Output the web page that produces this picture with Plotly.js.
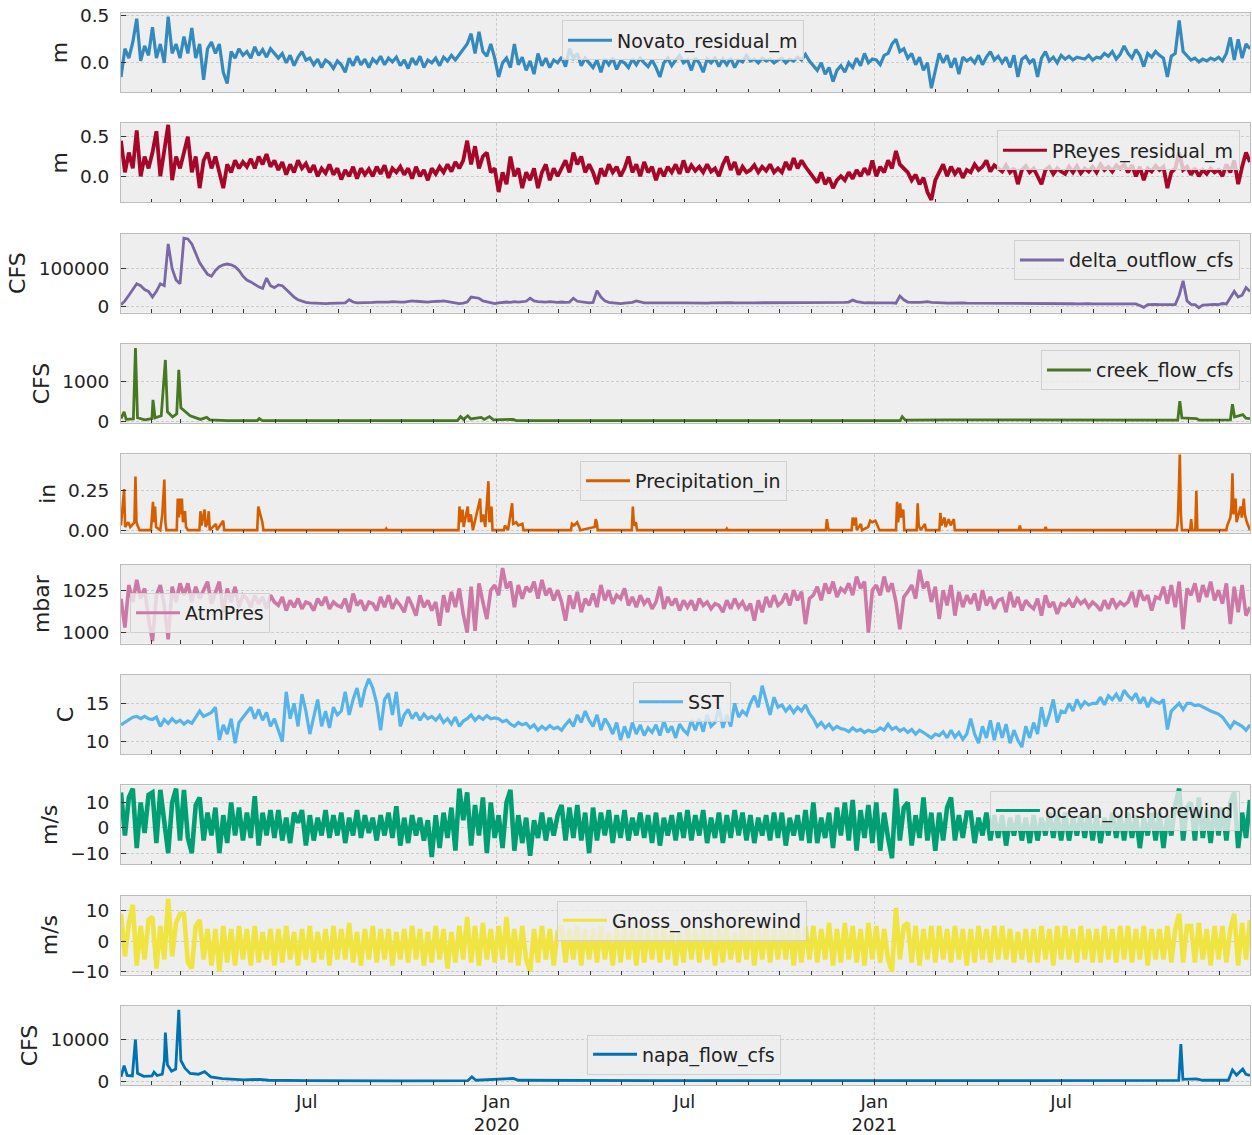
<!DOCTYPE html>
<html>
<head>
<meta charset="utf-8">
<script src="https://cdn.plot.ly/plotly-3.0.1.min.js"></script>
<style>
  html, body { margin: 0; padding: 0; background: #ffffff; }
  #chart { width: 1252px; height: 1135px; }
</style>
</head>
<body>
<div id="chart"></div>
<script>
// ---------------- DATA ----------------
// Regularly sampled series: 8 samples per month, Jan 2019 .. Dec 2021
const sampleStart = '2019-01-02';
const sampleStepMs = 329339000; // ~3.81 days between samples

const novato_residual_m = [
  -0.15,0.15,0.05,0.22,0.47,0.02,0.18,0.08,  0.38,0.05,0.2,0.0,0.49,0.1,0.2,0.05,
  0.28,0.1,0.37,0.05,0.2,-0.18,0.15,0.22,    0.1,0.2,-0.1,-0.22,0.12,0.05,0.15,0.08,
  0.12,0.05,0.17,0.08,0.14,0.06,0.15,0.1,    0.05,0.1,0.0,0.08,-0.03,0.06,0.12,0.03,
  0.05,-0.02,0.04,-0.05,0.03,0.0,-0.06,0.02, -0.02,-0.1,0.05,-0.03,0.07,-0.02,0.04,-0.05,
  0.04,0.0,0.07,-0.02,0.05,0.01,0.06,-0.03,  0.03,-0.06,0.05,-0.02,0.07,-0.05,0.03,0.0,
  0.05,-0.03,0.06,0.02,0.08,0.03,0.09,0.14,  0.2,0.31,0.1,0.33,0.12,0.07,0.2,0.05,
  -0.15,0.0,0.05,-0.05,0.2,-0.02,0.06,-0.08, 0.02,-0.12,0.1,-0.03,0.05,-0.05,0.03,0.0,
  0.06,-0.04,0.15,0.05,0.1,-0.03,0.05,0.0,   -0.05,0.03,-0.1,0.04,-0.02,0.05,-0.07,0.02,
  0.0,-0.05,0.04,-0.02,0.05,0.0,-0.04,0.03,  -0.05,-0.15,0.0,0.05,-0.03,0.03,0.08,0.0,
  0.03,-0.08,0.05,0.0,-0.1,0.04,0.0,0.05,    -0.04,0.04,-0.02,0.05,-0.05,0.03,0.01,0.08,
  0.02,0.04,0.0,0.05,0.02,0.04,0.0,0.03,     0.05,0.0,0.04,0.02,0.06,0.03,0.09,0.02,
  -0.03,-0.08,0.0,-0.12,-0.05,-0.2,-0.08,-0.03, -0.1,0.0,-0.05,0.05,-0.03,0.1,0.0,0.04,
  0.03,-0.02,0.08,0.1,0.2,0.25,0.12,0.15,    0.05,0.1,-0.02,0.06,-0.08,0.0,-0.27,-0.1,
  0.1,0.0,0.08,-0.05,0.05,-0.12,0.06,0.02,   0.05,0.0,0.08,-0.02,0.06,0.12,0.03,0.07,
  0.0,0.06,-0.05,0.08,-0.15,0.04,0.07,0.0,   0.04,-0.15,0.05,0.12,0.02,0.06,0.0,0.08,
  0.04,0.07,0.03,0.06,0.05,0.04,0.08,0.03,   0.06,0.05,0.1,0.07,0.12,0.04,0.09,0.18,
  0.1,0.05,0.14,0.08,-0.04,0.1,0.06,0.12,    0.08,0.05,-0.15,0.07,0.1,0.45,0.12,0.08,
  0.03,0.05,0.01,0.04,0.02,0.05,0.03,0.06,   0.02,0.1,0.27,0.03,0.25,0.05,0.2,0.15
];

const preyes_residual_m = [
  0.45,0.05,0.3,0.1,0.58,0.0,0.25,0.1,       0.3,0.57,0.0,0.35,0.65,-0.05,0.25,0.1,
  0.3,0.5,0.05,0.25,-0.15,0.2,0.3,0.1,       0.25,0.05,-0.15,0.15,0.05,0.2,0.1,0.18,
  0.12,0.22,0.1,0.25,0.15,0.28,0.12,0.2,     0.08,0.18,0.02,0.15,0.05,0.2,0.1,0.16,
  0.05,0.14,0.0,0.1,0.04,0.15,0.02,0.1,      -0.04,0.08,0.0,0.12,-0.03,0.1,0.02,0.09,
  0.0,0.12,0.03,0.14,-0.02,0.1,0.05,0.12,    0.02,0.1,-0.03,0.12,0.0,0.08,-0.05,0.1,
  0.03,0.12,0.05,0.15,0.06,0.18,0.1,0.2,     0.45,0.15,0.38,0.1,0.25,0.3,0.05,0.1,
  -0.2,0.05,-0.1,0.25,0.0,0.1,-0.15,0.05,    -0.05,0.1,-0.15,0.05,0.15,-0.05,0.1,0.0,
  0.1,0.2,0.05,0.3,0.15,0.25,0.05,0.15,      0.05,-0.1,0.1,0.0,0.15,0.05,0.12,0.0,
  0.1,0.25,0.05,0.15,0.0,0.18,0.05,0.12,     -0.05,0.1,0.0,0.12,0.05,0.15,0.03,0.2,
  0.05,0.14,0.07,0.12,0.05,0.15,0.06,0.1,    0.0,0.15,0.25,0.08,0.18,0.02,0.12,0.05,
  0.08,0.14,0.05,0.12,0.07,0.15,0.05,0.1,    0.05,0.18,0.08,0.23,0.1,0.2,0.12,0.05,
  0.0,-0.08,0.05,-0.1,-0.02,-0.15,-0.05,0.0, -0.05,0.05,-0.03,0.08,0.0,0.1,0.02,0.2,
  0.0,0.12,0.05,0.2,0.1,0.32,0.15,0.1,       0.05,-0.05,0.02,-0.1,-0.02,-0.2,-0.3,-0.05,
  0.05,0.15,0.0,0.12,0.03,0.1,-0.02,0.08,    0.05,0.15,0.08,0.12,0.2,0.06,0.14,0.1,
  0.06,0.14,0.05,0.1,-0.1,0.08,0.13,0.05,    0.1,0.0,-0.1,0.08,0.12,0.03,0.1,0.06,
  0.03,0.12,0.05,0.13,0.04,0.1,0.06,0.12,    0.05,0.15,0.08,0.12,0.06,0.14,0.1,0.15,
  0.05,0.14,0.0,0.12,-0.05,0.1,0.06,0.13,    0.08,0.12,-0.15,0.05,0.1,0.3,0.08,0.12,
  0.02,0.1,0.0,0.08,0.03,0.1,0.05,0.08,      0.0,0.15,0.05,0.2,-0.1,0.12,0.3,0.18
];

const delta_outflow_cfs = [
  5000,15000,30000,45000,60000,55000,45000,40000,   25000,40000,60000,55000,165000,100000,70000,60000,
  180000,178000,165000,140000,115000,100000,85000,80000, 95000,105000,110000,112000,110000,105000,95000,80000,
  70000,65000,58000,52000,48000,75000,55000,50000,   57000,55000,45000,35000,25000,18000,14000,11000,
  10000,9000,8500,8000,8000,8500,9000,9000,          9000,10000,18000,12000,10000,10000,11000,10000,
  11000,12000,12000,11000,12000,13000,12000,12000,   12000,13000,15000,14000,13000,13000,12000,13000,
  13000,14000,15000,13000,12000,10000,8000,9000,     12000,25000,24000,22000,15000,12000,9000,8000,
  10000,11000,12000,11000,13000,12000,13000,14000,   22000,15000,13000,12000,12000,13000,12000,11000,
  12000,11000,12000,22000,14000,12000,11000,10000,   11000,42000,25000,15000,11000,10000,9000,8000,
  9000,10000,11000,15000,12000,10000,10000,9500,     10000,10000,9500,10000,10500,10000,9500,10000,
  9500,9000,9500,10000,9500,9000,9500,10000,         10000,10000,9500,10500,10000,9500,10000,10000,
  9500,10000,10000,9500,10000,10500,10000,9500,      10000,9500,10000,10000,9500,10000,10000,9500,
  9500,10000,9000,9500,10000,9500,10000,10500,       11000,12000,17000,13000,11000,10000,10500,11000,
  10000,9500,10000,11000,10000,9000,28000,18000,     12000,11000,10500,11000,12000,13000,11000,10000,
  10000,9500,9000,9500,10000,9000,9500,9000,         9000,8500,9000,8500,9000,8500,8000,8500,
  8500,8000,8500,8000,8000,8500,8000,7500,           8000,7500,8000,7500,8000,7500,7500,8000,
  7500,8000,7500,7000,7500,8000,7500,7000,           7000,7500,7000,7500,7000,6500,7000,7500,
  7000,6500,7000,3000,-2000,5000,6000,5500,          5000,5500,5000,6000,5500,30000,68000,15000,
  6000,5000,-3000,4000,5000,5500,6000,5000,          8000,7000,25000,40000,25000,30000,50000,40000
];

const atm_pres_mbar = [
  1020,1003,1028,1018,1031,1020,1026,1008,  995,1022,1028,1016,996,1027,1018,1029,
  1022,1029,1018,1027,1020,1025,1030,1017,  1024,1030,1012,1026,1018,1027,1015,1022,
  1020,1015,1022,1017,1021,1014,1022,1018,  1016,1021,1013,1019,1015,1020,1014,1018,
  1017,1013,1020,1016,1021,1014,1018,1016,  1015,1020,1012,1023,1016,1019,1013,1018,
  1017,1013,1021,1015,1022,1014,1019,1016,  1012,1021,1016,1010,1022,1015,1019,1013,
  1018,1004,1022,1012,1024,1015,1026,1011,  1000,1027,1001,1029,1018,1008,1025,1028,
  1022,1038,1026,1030,1015,1028,1020,1027,  1024,1030,1020,1031,1022,1026,1019,1025,
  1018,1007,1022,1014,1024,1012,1020,1016,  1023,1015,1028,1019,1025,1017,1022,1020,
  1026,1016,1021,1015,1022,1017,1020,1014,  1018,1027,1014,1021,1016,1020,1013,1019,
  1015,1019,1013,1020,1016,1018,1014,1017,  1016,1012,1019,1014,1020,1015,1018,1013,
  1017,1007,1019,1012,1021,1015,1022,1016,  1018,1023,1016,1025,1019,1024,1005,1020,
  1022,1027,1019,1029,1023,1030,1021,1026,  1024,1029,1022,1033,1026,1030,1000,1025,
  1028,1022,1033,1024,1029,1018,1002,1021,  1024,1028,1020,1037,1026,1030,1018,1027,
  1008,1025,1016,1028,1010,1024,1015,1022,  1017,1023,1013,1025,1016,1021,1014,1019,
  1020,1012,1024,1015,1021,1013,1019,1016,  1014,1020,1010,1022,1015,1018,1011,1017,
  1016,1019,1015,1020,1017,1019,1015,1018,  1016,1013,1019,1014,1020,1015,1018,1016,
  1018,1024,1015,1025,1019,1022,1013,1021,  1020,1027,1017,1028,1015,1030,1002,1026,
  1022,1029,1018,1028,1021,1030,1019,1025,  1017,1029,1005,1027,1012,1028,1010,1015
];

const sst_c = [
  12.2,12.5,12.9,13.2,13.3,13.0,13.3,13.0,  12.9,13.2,12.0,12.9,12.4,13.0,12.5,12.8,
  12.3,12.7,12.4,13.2,14.0,13.3,13.6,13.8,  14.5,10.2,12.2,11.0,13.0,9.8,12.5,13.2,
  13.8,14.5,13.0,14.2,12.8,13.8,12.0,13.0,  11.5,10.0,16.5,13.0,15.0,12.0,16.2,14.0,
  11.0,13.5,15.5,12.0,14.0,11.8,14.5,13.5,  14.0,16.5,13.5,15.5,17.0,14.5,16.8,18.2,
  17.0,15.0,11.5,15.5,16.3,13.5,16.5,12.0,  13.5,14.2,13.0,13.8,12.8,13.6,13.0,13.3,
  12.8,13.4,12.5,13.0,12.3,13.2,12.0,12.7,  13.0,13.5,12.8,13.3,12.9,13.4,13.0,13.1,
  13.0,12.6,12.8,12.3,12.0,12.5,12.2,12.4,  11.8,12.2,11.5,12.0,11.6,12.1,11.7,11.9,
  11.5,12.2,12.8,12.0,13.5,12.5,14.0,12.8,  12.0,13.5,11.5,13.0,12.2,11.0,12.5,10.2,
  12.0,10.5,12.5,11.0,12.2,10.8,11.8,11.2,  12.2,10.8,12.7,11.2,12.0,10.5,12.3,11.5,
  11.0,12.8,11.5,13.0,11.3,13.5,12.0,12.5,  14.5,11.8,13.5,12.0,15.0,13.2,14.0,13.5,
  15.0,16.0,14.5,17.3,15.5,13.5,15.8,14.5,  14.8,14.0,14.6,13.8,14.5,14.0,14.8,13.7,
  13.0,12.0,12.5,11.8,12.3,11.6,12.0,11.7,  11.6,11.3,11.8,11.4,11.6,11.2,11.5,11.3,
  11.4,11.8,11.5,12.3,11.6,11.9,11.4,11.7,  11.2,11.6,11.0,11.5,11.2,10.8,10.5,11.0,
  10.8,11.3,10.5,11.5,10.6,11.2,10.3,11.0,  13.0,11.0,9.8,12.0,10.5,12.8,10.2,12.5,
  10.5,12.3,9.8,11.5,10.2,9.3,12.0,10.5,    12.5,11.0,14.5,12.0,13.5,15.5,12.5,14.0,
  13.8,15.0,14.0,15.5,14.5,15.2,14.8,15.0,  15.0,15.8,14.8,16.0,15.5,16.2,15.3,16.7,
  16.0,15.5,16.3,15.0,15.8,14.5,15.6,15.2,  15.0,15.5,11.6,14.0,14.5,15.0,14.2,15.0,
  15.0,14.7,14.8,14.5,14.3,14.0,13.8,13.6,  13.2,12.5,11.8,12.6,12.3,12.0,11.5,12.2
];

const ocean_onshorewind = [
  14,-3,12,15.5,-8,10,-2,13,   14,-6,15,2,-10,10,15.5,-5,
  15,-4,-10,9,12,-5,6,-3,      8,-10,5,-6,10,-3,8,-5,
  6,-4,12.5,-7,6,-3,7,-4,      7,-5,4,-6,6,2,7,-7,
  5,-5,4,-3,7,-4,5,-3,         6,-6,4,-3,7,-4,5,-2,
  4,-5,5,-3,6,-4,8.5,-7,       4,-6,5,-3,4,-5,3,-11.5,
  5,-8,6,-4,8,-9,15.5,3,       14,-7,9,-3,12,-10,10,-4,
  5,-8,10,15,-9,5,-6,4,        -11,3,-4,6,-5,4,-3,5,
  9,-5,8,-4,9,-5,6,-10,        8,-5,6,-3,7,-6,5,-4,
  7,-5,4,-3,6,-4,5,-6,         6,-7,4,-3,5,-5,6,-4,
  7,-5,5,-3,7,-6,4,-4,         6,-6,5,-4,7,-3,6,-5,
  5,-6,4,-3,5,-5,6,-4,         6,-7,4,-3,5,-5,7,-6,
  10,-6,4,-4,6,-8,8,-3,        10,-5,11,-9,7,-4,9,-6,
  10,-9,6,-4,-12,15.5,-5,8,    10,-7,5,-4,12,-5,6,-9,
  6,-5,8,12,-5,5,-4,6,         6,-6,4,-3,6,-5,5,-4,
  5,-7,4,-3,5,-5,4,-6,         5,-5,4,-3,6,-4,5,-5,
  6,-5,4,-3,5,-4,6,-5,         5,-6,4,-3,6,-4,5,-5,
  6,-4,5,-8,4,-3,6,-5,         6,-8,5,-3,9,15.5,-5,8,
  10,-5,12,-4,7,-6,8,-3,       8,-5,10,14,-8,6,-4,11
];

const gnoss_onshorewind = [
  9,-5,6,12,-8,5,-6,7,    8,-9,5,-6,14,-5,6,9,
  9,-7,-9,5,7,-6,4,-8,    4,-10,5,-7,4,-8,5,-6,
  4,-8,5,-7,3,-6,4,-8,    4,-7,5,-6,3,-8,4,-6,
  5,-7,3,-6,4,-8,5,-6,    4,-6,6,-7,3,-8,4,-6,
  5,-7,4,-6,4,-8,3,-6,    4,-7,5,-6,4,-8,3,-7,
  5,-6,4,-9,3,-7,5,-6,    8,-7,5,-8,6,-6,4,-7,
  5,-6,8,-7,4,-8,5,-6,    -10,4,-7,5,-6,4,-8,3,
  5,-7,4,-6,5,-8,4,-6,    4,-7,5,-6,3,-8,5,-7,
  5,-6,4,-8,5,-7,4,-6,    4,-7,5,-6,4,-8,3,-7,
  5,-6,4,-7,5,-6,4,-8,    4,-7,5,-6,3,-7,5,-6,
  5,-8,4,-6,5,-7,4,-6,    4,-6,5,-8,4,-7,5,-6,
  5,-7,4,-6,6,-8,4,-7,    6,-6,5,-7,4,-8,6,-6,
  5,-7,4,-6,-10,11,-6,5,  6,-7,5,-8,4,-6,5,-7,
  5,-6,4,-7,5,-6,4,-8,    4,-7,5,-6,4,-7,5,-6,
  5,-6,4,-7,3,-6,4,-7,    4,-7,5,-6,4,-8,5,-6,
  5,-6,4,-7,5,-6,4,-7,    4,-7,5,-6,4,-7,5,-6,
  5,-7,4,-6,5,-8,4,-6,    4,-6,5,-7,4,9,-7,5,
  5,-7,6,-6,4,-8,5,-6,    5,-7,4,9,-8,6,-6,7
];

// Event-type series: explicit dates and values
const creek_dates = ['2019-01-02','2019-01-05','2019-01-07','2019-01-14','2019-01-16','2019-01-18','2019-01-25',
  '2019-02-01','2019-02-02','2019-02-04','2019-02-10','2019-02-12','2019-02-14','2019-02-16','2019-02-21',
  '2019-02-25','2019-02-27','2019-03-01','2019-03-05','2019-03-10','2019-03-20','2019-03-26','2019-03-29',
  '2019-04-15','2019-05-14','2019-05-16','2019-05-19','2019-11-24','2019-11-27','2019-11-30','2019-12-04',
  '2019-12-07','2019-12-17','2019-12-20','2019-12-25','2019-12-29','2020-01-17','2020-01-20','2021-01-26',
  '2021-01-28','2021-01-31','2021-03-14','2021-10-22','2021-10-24','2021-10-26','2021-11-09','2021-11-12',
  '2021-12-12','2021-12-14','2021-12-16','2021-12-24','2021-12-27','2021-12-31'];
const creek_flow_cfs = [80,250,60,70,1850,100,50,
  80,550,100,150,1000,1550,250,120,
  200,1300,350,250,150,60,110,50,
  30,30,80,30,30,130,60,150,
  70,110,60,130,50,60,30,30,
  130,40,50,40,520,100,80,40,
  50,440,120,180,90,80];

const precip_dates = ['2019-01-02','2019-01-05','2019-01-06','2019-01-09','2019-01-11','2019-01-15','2019-01-16','2019-01-17',
  '2019-01-18','2019-01-20','2019-01-31','2019-02-01','2019-02-02','2019-02-03','2019-02-04','2019-02-05',
  '2019-02-09','2019-02-11','2019-02-13','2019-02-14','2019-02-15','2019-02-25','2019-02-26','2019-02-27',
  '2019-02-28','2019-03-01','2019-03-02','2019-03-03','2019-03-05','2019-03-06','2019-03-08','2019-03-19',
  '2019-03-20','2019-03-21','2019-03-24','2019-03-25','2019-03-27','2019-03-28','2019-03-29','2019-04-04',
  '2019-04-05','2019-04-11','2019-04-12','2019-05-14','2019-05-15','2019-05-17','2019-05-19','2019-05-20',
  '2019-09-15','2019-09-16','2019-09-17','2019-11-25','2019-11-26','2019-11-27','2019-11-29','2019-11-30',
  '2019-12-04','2019-12-05','2019-12-07','2019-12-09','2019-12-16','2019-12-17','2019-12-19','2019-12-21',
  '2019-12-24','2019-12-25','2019-12-27','2019-12-28','2020-01-08','2020-01-09','2020-01-12','2020-01-16',
  '2020-01-17','2020-01-20','2020-01-22','2020-01-26','2020-01-27','2020-03-13','2020-03-14','2020-03-16',
  '2020-03-19','2020-03-21','2020-03-22','2020-04-05','2020-04-06','2020-04-07','2020-04-08','2020-05-11',
  '2020-05-12','2020-05-13','2020-05-15','2020-05-16','2020-08-10','2020-08-11','2020-08-12','2020-11-15',
  '2020-11-16','2020-11-17','2020-11-18','2020-12-10','2020-12-11','2020-12-12','2020-12-14','2020-12-15',
  '2020-12-19','2020-12-20','2020-12-26','2020-12-28','2020-12-30','2021-01-02','2021-01-04','2021-01-06',
  '2021-01-22','2021-01-23','2021-01-24','2021-01-26','2021-01-27','2021-01-29','2021-01-30','2021-02-11',
  '2021-02-12','2021-02-13','2021-02-15','2021-02-19','2021-02-20','2021-03-05','2021-03-06','2021-03-07',
  '2021-03-10','2021-03-11','2021-03-14','2021-03-16','2021-03-19','2021-03-20','2021-05-21','2021-05-22',
  '2021-05-23','2021-06-15','2021-06-16','2021-06-17','2021-10-21','2021-10-22','2021-10-23','2021-10-24',
  '2021-10-25','2021-10-26','2021-11-03','2021-11-04','2021-11-05','2021-11-08','2021-11-09','2021-11-10',
  '2021-12-08','2021-12-09','2021-12-12','2021-12-13','2021-12-14','2021-12-15','2021-12-17','2021-12-18',
  '2021-12-22','2021-12-23','2021-12-25','2021-12-26','2021-12-28','2021-12-30','2021-12-31'];
const precipitation_in = [0.03,0.26,0.02,0.05,0.02,0.05,0.34,0.05,
  0.03,0.0,0.0,0.08,0.18,0.05,0.15,0.02,
  0.0,0.1,0.32,0.05,0.0,0.0,0.2,0.08,
  0.2,0.1,0.2,0.05,0.12,0.02,0.0,0.0,
  0.12,0.03,0.13,0.02,0.05,0.12,0.0,0.04,
  0.0,0.06,0.0,0.0,0.15,0.1,0.05,0.0,
  0.0,0.01,0.0,0.0,0.15,0.05,0.13,0.02,
  0.15,0.05,0.1,0.0,0.2,0.05,0.1,0.02,
  0.31,0.05,0.15,0.0,0.0,0.03,0.0,0.17,
  0.04,0.05,0.03,0.04,0.0,0.0,0.04,0.03,
  0.05,0.02,0.0,0.02,0.07,0.05,0.0,0.0,
  0.15,0.03,0.05,0.0,0.0,0.01,0.0,0.0,
  0.07,0.02,0.0,0.0,0.08,0.03,0.08,0.0,
  0.04,0.0,0.02,0.06,0.05,0.06,0.03,0.0,
  0.0,0.18,0.05,0.17,0.08,0.13,0.0,0.0,
  0.17,0.03,0.0,0.04,0.0,0.0,0.11,0.03,
  0.08,0.02,0.07,0.03,0.07,0.0,0.0,0.03,
  0.0,0.0,0.02,0.0,0.0,0.05,0.25,0.48,
  0.1,0.0,0.0,0.07,0.0,0.0,0.25,0.0,
  0.0,0.03,0.08,0.15,0.36,0.1,0.2,0.05,
  0.15,0.08,0.2,0.1,0.05,0.02,0.0];

const napa_dates = ['2019-01-02','2019-01-05','2019-01-08','2019-01-13','2019-01-16','2019-01-18','2019-01-24',
  '2019-02-01','2019-02-03','2019-02-06','2019-02-11','2019-02-13','2019-02-14','2019-02-16','2019-02-20',
  '2019-02-24','2019-02-27','2019-03-01','2019-03-05','2019-03-10','2019-03-18','2019-03-24','2019-03-30',
  '2019-04-10','2019-05-01','2019-05-16','2019-05-25','2019-07-01','2019-10-01','2019-12-04','2019-12-08',
  '2019-12-12','2020-01-17','2020-01-22','2020-06-01','2021-01-01','2021-10-23','2021-10-25','2021-10-27',
  '2021-11-09','2021-11-15','2021-12-10','2021-12-14','2021-12-18','2021-12-24','2021-12-27','2021-12-31'];
const napa_flow_cfs = [1200,3800,1500,1400,9900,2000,1300,
  1400,2300,1500,1800,5000,11500,4000,2500,
  3000,16800,5000,3200,2000,1800,2400,1200,
  800,500,600,400,300,250,300,1200,
  400,800,400,300,300,350,8800,600,
  700,400,400,2800,1600,3000,1800,1500];

const series_names = ['Novato_residual_m','PReyes_residual_m','delta_outflow_cfs','creek_flow_cfs',
  'Precipitation_in','AtmPres','SST','ocean_onshorewind','Gnoss_onshorewind','napa_flow_cfs'];
const unit_labels = ['m','m','CFS','CFS','in','mbar','C','m/s','m/s','CFS'];
const y_tick_values = [[0,0.5],[0,0.5],[0,100000],[0,1000],[0,0.25],[1000,1025],[10,15],[-10,0,10],[-10,0,10],[0,10000]];
const x_tick_values = ['2019-07-01','2020-01-01','2020-07-01','2021-01-01','2021-07-01'];
const x_tick_labels = ['Jul','Jan<br>2020','Jul','Jan<br>2021','Jul'];
const year_starts = ['2020-01-01','2021-01-01'];

// ---------------- STYLE / LAYOUT ----------------
const colors = ['#348ABD','#A60628','#7A68A6','#467821','#D55E00','#CC79A7','#56B4E9','#009E73','#F0E442','#0072B2'];
const lineWidths = [3.2, 3.8, 2.8, 2.8, 2.6, 3.6, 3.2, 4.6, 4.6, 2.8];
const yRanges = [[-0.31,0.53],[-0.33,0.67],[-16000,192000],[-30,1950],[-0.02,0.48],[993.5,1040],[8.4,18.7],[-14.4,16.8],[-11,15],[-700,17700]];
const yFormats = ['.1f','.1f','d','d','.2f','d','d','d','d','d'];
const legendPos = [
  {x:0.3906, y:0.9931, xanchor:'left'},
  {x:0.9911, y:0.8906, xanchor:'right'},
  {x:0.9911, y:0.7881, xanchor:'right'},
  {x:0.9911, y:0.6856, xanchor:'right'},
  {x:0.4066, y:0.5821, xanchor:'left'},
  {x:0.0080, y:0.4591, xanchor:'left'},
  {x:0.4535, y:0.3761, xanchor:'left'},
  {x:0.9911, y:0.2746, xanchor:'right'},
  {x:0.3862, y:0.1721, xanchor:'left'},
  {x:0.4128, y:0.0471, xanchor:'left'}
];

const regular = {0:novato_residual_m, 1:preyes_residual_m, 2:delta_outflow_cfs, 5:atm_pres_mbar,
                 6:sst_c, 7:ocean_onshorewind, 8:gnoss_onshorewind};
const events = {3:[creek_dates, creek_flow_cfs], 4:[precip_dates, precipitation_in], 9:[napa_dates, napa_flow_cfs]};

const FONT = 'DejaVu Sans, Liberation Sans, sans-serif';
const TXT = '#222222';
const GRID = '#bdbdbd';
const xRange = ['2019-01-02','2021-12-31'];

const traces = [];
const layout = {
  width: 1252, height: 1135,
  margin: {l:121, r:2, t:13, b:50},
  paper_bgcolor: '#ffffff',
  plot_bgcolor: '#eeeeee',
  font: {family: FONT, size: 18, color: TXT},
  shapes: []
};

const plotTop = 13, plotH = 1072, panelH = 79, panelStep = 110.33;

for (let i = 0; i < 10; i++) {
  const n = i + 1;
  const xa = n === 1 ? 'x' : 'x' + n;
  const ya = n === 1 ? 'y' : 'y' + n;
  const lg = n === 1 ? 'legend' : 'legend' + n;
  const tr = {
    type: 'scatter', mode: 'lines', name: series_names[i],
    xaxis: xa, yaxis: ya, showlegend: false,
    line: {color: colors[i], width: lineWidths[i]},
    hoverinfo: 'skip'
  };
  if (regular[i]) {
    tr.x0 = sampleStart; tr.dx = sampleStepMs; tr.y = regular[i];
  } else {
    tr.x = events[i][0]; tr.y = events[i][1];
  }
  traces.push(tr);
  // legend entry (thinner key line, as in the reference legend)
  traces.push({
    type: 'scatter', mode: 'lines', name: series_names[i],
    x: [null], y: [null], xaxis: xa, yaxis: ya, legend: lg, showlegend: true,
    line: {color: colors[i], width: 3}, hoverinfo: 'skip'
  });

  const topPx = plotTop + i * panelStep;
  const d1 = (plotTop + plotH - topPx) / plotH;
  const d0 = (plotTop + plotH - topPx - panelH) / plotH;

  const isBottom = (i === 9);
  const xaxis = {
    type: 'date', range: xRange, anchor: ya,
    showline: true, mirror: true, linecolor: '#bcbcbc', linewidth: 1,
    zeroline: false,
    tickmode: 'array',
    tickvals: isBottom ? x_tick_values : year_starts,
    ticktext: isBottom ? x_tick_labels : ['', ''],
    showticklabels: isBottom,
    ticks: 'inside', ticklen: 6, tickcolor: '#333333', tickwidth: 1,
    showgrid: !isBottom, gridcolor: GRID, gridwidth: 0.7, griddash: '3px,2px',
    tickfont: {family: FONT, size: 18, color: TXT},
    minor: {tickmode: 'linear', tick0: '2019-01-01', dtick: 'M1', ticks: 'inside',
            ticklen: 3.5, tickcolor: '#333333', tickwidth: 1, showgrid: false}
  };
  if (n > 1) xaxis.matches = 'x';
  layout[n === 1 ? 'xaxis' : 'xaxis' + n] = xaxis;

  layout[n === 1 ? 'yaxis' : 'yaxis' + n] = {
    domain: [d0, d1], anchor: xa, range: yRanges[i],
    tickmode: 'array', tickvals: y_tick_values[i], tickformat: yFormats[i],
    showline: true, mirror: true, linecolor: '#bcbcbc', linewidth: 1,
    zeroline: false,
    ticks: 'inside', ticklen: 5, tickcolor: '#333333', tickwidth: 1,
    ticklabelstandoff: 7,
    showgrid: true, gridcolor: GRID, gridwidth: 0.7, griddash: '3px,2px',
    tickfont: {family: FONT, size: 18.5, color: TXT},
    title: {text: unit_labels[i], font: {family: FONT, size: 22, color: TXT}, standoff: 6},
    automargin: false
  };

  layout[lg] = {
    x: legendPos[i].x, y: legendPos[i].y, xanchor: legendPos[i].xanchor, yanchor: 'top',
    bgcolor: 'rgba(238,238,238,0.8)', bordercolor: '#d0d0d0', borderwidth: 1,
    font: {family: FONT, size: 19, color: TXT},
    itemwidth: 44
  };
}

// year gridlines on the bottom panel (its own axis carries the Jul labels)
year_starts.forEach(function (d) {
  layout.shapes.push({type: 'line', xref: 'x10', yref: 'y10 domain', x0: d, x1: d, y0: 0, y1: 1,
    line: {color: GRID, width: 0.7, dash: '3px,2px'}, layer: 'below'});
});

Plotly.newPlot('chart', traces, layout, {displayModeBar: false, staticPlot: true});
</script>
</body>
</html>
